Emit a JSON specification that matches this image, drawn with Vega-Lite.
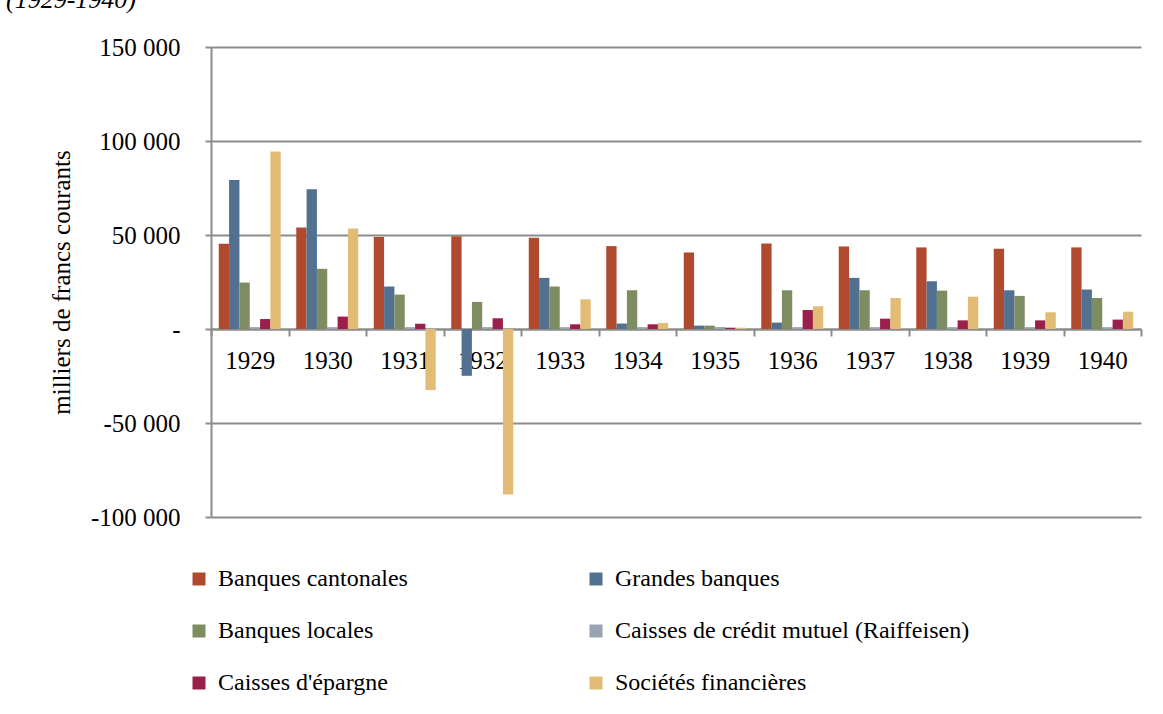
{
 "$schema": "https://vega.github.io/schema/vega-lite/v6.json",
 "width": 930, "height": 470,
 "autosize": {"type": "none"},
 "padding": {"left": 211, "top": 47, "right": 22, "bottom": 197},
 "background": "white",
 "config": {"font": "Liberation Serif", "view": {"stroke": null},
  "style": {"guide-label": {"font": "Liberation Serif"}, "guide-title": {"font": "Liberation Serif"}},
  "legend": {"labelFont": "Liberation Serif", "labelFontSize": 24, "labelColor": "black"},
  "axis": {"labelFont": "Liberation Serif", "titleFont": "Liberation Serif"},
  "title": {"font": "Liberation Serif"}},
 "title": {"text": "(1929-1940)", "orient": "top", "anchor": "start", "frame": "group", "dx": -205, "dy": 22, "offset": 18, "baseline": "bottom", "fontSize": 26, "fontStyle": "italic", "fontWeight": "normal", "color": "black", "font": "Liberation Serif"},
 "data": {"values": [
  {"year": "1929", "serie": "Banques cantonales", "value": 45400},
  {"year": "1929", "serie": "Grandes banques", "value": 79300},
  {"year": "1929", "serie": "Banques locales", "value": 24700},
  {"year": "1929", "serie": "Caisses de crédit mutuel (Raiffeisen)", "value": 1000},
  {"year": "1929", "serie": "Caisses d'épargne", "value": 5300},
  {"year": "1929", "serie": "Sociétés financières", "value": 94400},
  {"year": "1930", "serie": "Banques cantonales", "value": 54000},
  {"year": "1930", "serie": "Grandes banques", "value": 74300},
  {"year": "1930", "serie": "Banques locales", "value": 32000},
  {"year": "1930", "serie": "Caisses de crédit mutuel (Raiffeisen)", "value": 1000},
  {"year": "1930", "serie": "Caisses d'épargne", "value": 6600},
  {"year": "1930", "serie": "Sociétés financières", "value": 53400},
  {"year": "1931", "serie": "Banques cantonales", "value": 48900},
  {"year": "1931", "serie": "Grandes banques", "value": 22600},
  {"year": "1931", "serie": "Banques locales", "value": 18300},
  {"year": "1931", "serie": "Caisses de crédit mutuel (Raiffeisen)", "value": 1000},
  {"year": "1931", "serie": "Caisses d'épargne", "value": 2800},
  {"year": "1931", "serie": "Sociétés financières", "value": -32500},
  {"year": "1932", "serie": "Banques cantonales", "value": 49300},
  {"year": "1932", "serie": "Grandes banques", "value": -24900},
  {"year": "1932", "serie": "Banques locales", "value": 14400},
  {"year": "1932", "serie": "Caisses de crédit mutuel (Raiffeisen)", "value": 1000},
  {"year": "1932", "serie": "Caisses d'épargne", "value": 5700},
  {"year": "1932", "serie": "Sociétés financières", "value": -88000},
  {"year": "1933", "serie": "Banques cantonales", "value": 48500},
  {"year": "1933", "serie": "Grandes banques", "value": 27200},
  {"year": "1933", "serie": "Banques locales", "value": 22600},
  {"year": "1933", "serie": "Caisses de crédit mutuel (Raiffeisen)", "value": 1000},
  {"year": "1933", "serie": "Caisses d'épargne", "value": 2500},
  {"year": "1933", "serie": "Sociétés financières", "value": 15800},
  {"year": "1934", "serie": "Banques cantonales", "value": 44100},
  {"year": "1934", "serie": "Grandes banques", "value": 2900},
  {"year": "1934", "serie": "Banques locales", "value": 20600},
  {"year": "1934", "serie": "Caisses de crédit mutuel (Raiffeisen)", "value": 1000},
  {"year": "1934", "serie": "Caisses d'épargne", "value": 2500},
  {"year": "1934", "serie": "Sociétés financières", "value": 3200},
  {"year": "1935", "serie": "Banques cantonales", "value": 40700},
  {"year": "1935", "serie": "Grandes banques", "value": 1800},
  {"year": "1935", "serie": "Banques locales", "value": 1800},
  {"year": "1935", "serie": "Caisses de crédit mutuel (Raiffeisen)", "value": 1000},
  {"year": "1935", "serie": "Caisses d'épargne", "value": 700},
  {"year": "1935", "serie": "Sociétés financières", "value": 700},
  {"year": "1936", "serie": "Banques cantonales", "value": 45500},
  {"year": "1936", "serie": "Grandes banques", "value": 3400},
  {"year": "1936", "serie": "Banques locales", "value": 20600},
  {"year": "1936", "serie": "Caisses de crédit mutuel (Raiffeisen)", "value": 1000},
  {"year": "1936", "serie": "Caisses d'épargne", "value": 10100},
  {"year": "1936", "serie": "Sociétés financières", "value": 12100},
  {"year": "1937", "serie": "Banques cantonales", "value": 43900},
  {"year": "1937", "serie": "Grandes banques", "value": 27200},
  {"year": "1937", "serie": "Banques locales", "value": 20600},
  {"year": "1937", "serie": "Caisses de crédit mutuel (Raiffeisen)", "value": 1000},
  {"year": "1937", "serie": "Caisses d'épargne", "value": 5500},
  {"year": "1937", "serie": "Sociétés financières", "value": 16500},
  {"year": "1938", "serie": "Banques cantonales", "value": 43400},
  {"year": "1938", "serie": "Grandes banques", "value": 25400},
  {"year": "1938", "serie": "Banques locales", "value": 20400},
  {"year": "1938", "serie": "Caisses de crédit mutuel (Raiffeisen)", "value": 1000},
  {"year": "1938", "serie": "Caisses d'épargne", "value": 4600},
  {"year": "1938", "serie": "Sociétés financières", "value": 17200},
  {"year": "1939", "serie": "Banques cantonales", "value": 42700},
  {"year": "1939", "serie": "Grandes banques", "value": 20600},
  {"year": "1939", "serie": "Banques locales", "value": 17600},
  {"year": "1939", "serie": "Caisses de crédit mutuel (Raiffeisen)", "value": 1000},
  {"year": "1939", "serie": "Caisses d'épargne", "value": 4600},
  {"year": "1939", "serie": "Sociétés financières", "value": 8900},
  {"year": "1940", "serie": "Banques cantonales", "value": 43400},
  {"year": "1940", "serie": "Grandes banques", "value": 21000},
  {"year": "1940", "serie": "Banques locales", "value": 16500},
  {"year": "1940", "serie": "Caisses de crédit mutuel (Raiffeisen)", "value": 1000},
  {"year": "1940", "serie": "Caisses d'épargne", "value": 5000},
  {"year": "1940", "serie": "Sociétés financières", "value": 9200}
 ]},
 "mark": {"type": "bar"},
 "encoding": {
  "x": {"field": "year", "type": "nominal", "sort": null,
   "scale": {"paddingInner": 0, "paddingOuter": 0},
   "axis": {"title": null, "labelAngle": 0, "offset": -188, "tickBand": "extent",
    "domainColor": "#8c8c8c", "domainWidth": 2, "tickColor": "#8c8c8c", "tickWidth": 2, "tickSize": 7,
    "labelFontSize": 25, "labelPadding": 12, "labelColor": "black", "labelFont": "Liberation Serif"}},
  "xOffset": {"field": "serie", "type": "nominal",
   "sort": ["Banques cantonales", "Grandes banques", "Banques locales", "Caisses de crédit mutuel (Raiffeisen)", "Caisses d'épargne", "Sociétés financières"],
   "scale": {"paddingInner": 0, "paddingOuter": 0.75}},
  "y": {"field": "value", "type": "quantitative",
   "scale": {"domain": [-100000, 150000], "nice": false, "zero": false},
   "axis": {"values": [-100000, -50000, 0, 50000, 100000, 150000],
    "labelExpr": "datum.value == 0 ? '-   ' : replace(replace(format(datum.value, ','), ',', ' '), '\u2212', '-')",
    "title": "milliers de francs courants", "titleFontSize": 25, "titleFontWeight": "normal", "titleColor": "black", "titleFont": "Liberation Serif", "titlePadding": 16,
    "domainColor": "#8c8c8c", "domainWidth": 2, "tickColor": "#8c8c8c", "tickWidth": 2, "tickSize": 6,
    "gridColor": "#8c8c8c", "gridWidth": 2, "grid": true,
    "labelFontSize": 25, "labelPadding": 25, "labelColor": "black", "labelFont": "Liberation Serif"}},
  "color": {"field": "serie", "type": "nominal",
   "scale": {"domain": ["Banques cantonales", "Grandes banques", "Banques locales", "Caisses de crédit mutuel (Raiffeisen)", "Caisses d'épargne", "Sociétés financières"],
    "range": ["#B04A2F", "#52708F", "#7E8C61", "#9AA3B1", "#9B1F4B", "#E2BC74"]},
   "legend": {"title": null, "orient": "none", "legendX": -24, "legendY": 520, "direction": "horizontal", "columns": 2, "columnPadding": 176, "rowPadding": 28, "gridAlign": "each",
    "symbolType": "square", "symbolSize": 169, "symbolStrokeWidth": 0, "symbolOpacity": 1, "labelFontSize": 24, "labelFont": "Liberation Serif", "labelColor": "black", "labelOffset": 7, "labelLimit": 500, "padding": 0}}
 }
}
